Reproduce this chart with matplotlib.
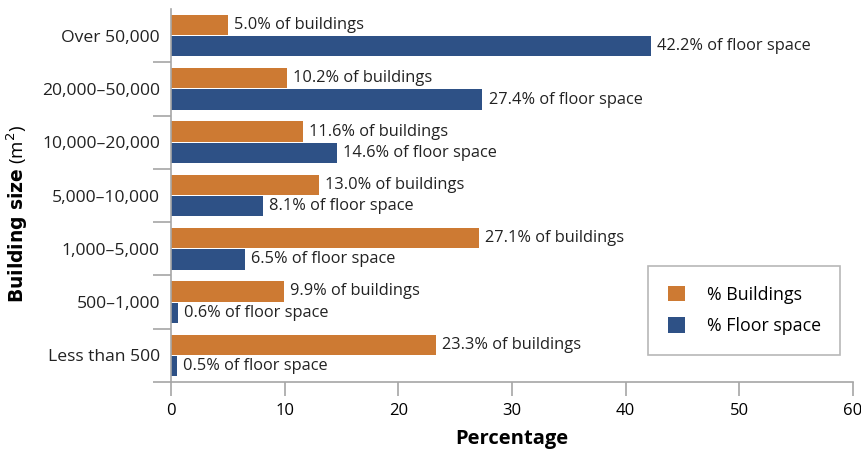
import matplotlib
matplotlib.use("Agg")
import matplotlib.pyplot as plt
from matplotlib.patches import Patch
import numpy as np

categories = ["Over 50,000", "20,000\u201350,000", "10,000\u201320,000", "5,000\u201310,000",
              "1,000\u20135,000", "500\u20131,000", "Less than 500"]
buildings = [5.0, 10.2, 11.6, 13.0, 27.1, 9.9, 23.3]
floor_space = [42.2, 27.4, 14.6, 8.1, 6.5, 0.6, 0.5]
xticks = [0, 10, 20, 30, 40, 50, 60]

ORANGE = "#CD7A33"
BLUE = "#2E5186"
GRAY = "#A6A6A6"

plt.rcParams['font.family'] = ['Open Sans', 'DejaVu Sans']

fig = plt.figure(figsize=(8.61, 4.54), dpi=100)
ax = fig.add_axes([171/861, 1-382/454, (853-171)/861, (382-9)/454])

y = np.arange(len(categories))
h = 0.38
ax.barh(y - h/2 - 0.01, buildings, height=h, color=ORANGE)
ax.barh(y + h/2 + 0.01, floor_space, height=h, color=BLUE)

fs = 11.8
for yi, b, f in zip(y, buildings, floor_space):
    ax.annotate(f"{b:.1f}% of buildings", (b, yi - h/2 - 0.01), xytext=(4.5, 0),
                textcoords="offset points", va="center", ha="left", fontsize=fs, color="#222222")
    ax.annotate(f"{f:.1f}% of floor space", (f, yi + h/2 + 0.01), xytext=(4.5, 0),
                textcoords="offset points", va="center", ha="left", fontsize=fs, color="#222222")

ax.set_ylim(len(categories) - 0.5, -0.5)
ax.set_xlim(0, 60)
ax.set_xticks(xticks)
ax.set_xticklabels([str(t) for t in xticks], fontsize=12)
ax.set_yticks(y)
ax.set_yticklabels(categories, fontsize=12.6, color="#222222")
ax.tick_params(axis='y', which='major', length=0, pad=8)
ax.set_yticks(np.arange(0.5, len(categories), 1.0), minor=True)
ax.tick_params(axis='y', which='minor', length=13, width=1.2, color=GRAY)
ax.tick_params(axis='x', which='major', length=10, width=1.2, color=GRAY, pad=5)

for s in ["top", "right"]:
    ax.spines[s].set_visible(False)
for s in ["left", "bottom"]:
    ax.spines[s].set_color(GRAY)
    ax.spines[s].set_linewidth(1.2)

ax.set_xlabel("Percentage", fontsize=14.5, fontweight="bold", labelpad=7)
fig.text(17/861, 1-214/454, r"$\bf{Building\ size}$ (m$^2$)", rotation=90,
         ha="center", va="center", fontsize=13.5)

handles = [Patch(facecolor=ORANGE, edgecolor="none", label="% Buildings"),
           Patch(facecolor=BLUE, edgecolor="none", label="% Floor space")]
leg = ax.legend(handles=handles, loc="upper left",
                bbox_to_anchor=((648-171)/682, (382-266)/373), fontsize=12.8,
                frameon=True, fancybox=False, handlelength=1.0, handleheight=1.0,
                borderpad=1.1, labelspacing=0.75, handletextpad=1.2, borderaxespad=0)
leg.get_frame().set_edgecolor(GRAY)
leg.get_frame().set_linewidth(1.2)

fig.savefig("out.png", dpi=100)
